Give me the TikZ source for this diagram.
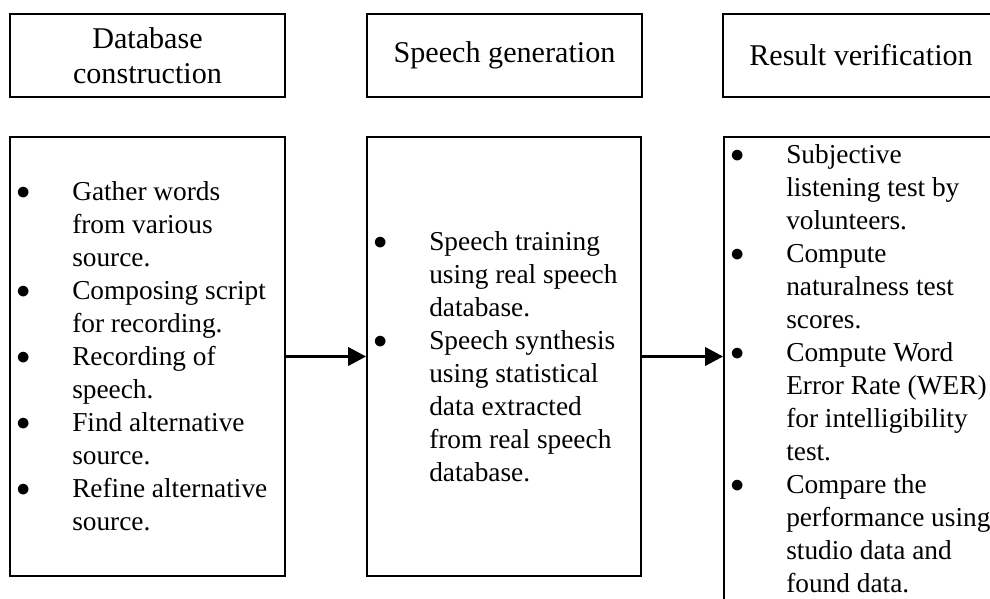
\documentclass[tikz,border=0pt]{standalone}
\usepackage{fontspec}
\setmainfont{Liberation Serif}
\usetikzlibrary{arrows.meta}
\newcommand\itm{\llap{\makebox[73.5pt]{\raisebox{1pt}{$\bullet$}}}}
\begin{document}
\begin{tikzpicture}[x=0.75pt,y=-0.75pt,
  box/.style={draw=black, line width=1.5pt, rectangle, inner sep=0pt},
  titletext/.style={font=\fontsize{22.6}{26}\selectfont, align=center},
  listtext/.style={font=\fontsize{20.5}{24.75}\selectfont, inner sep=0pt, anchor=base west},
  arr/.style={line width=1.5pt, -{Triangle[length=13.5pt,width=14pt]}}]
\useasboundingbox (0,0) rectangle (990,599);
\clip (0,0) rectangle (990,599);
% top title boxes
\node[box, minimum width=206.25pt, minimum height=62.25pt] (t1) at (147.5,55.5) {};
\node[titletext] (t1txt) at (t1.center) {Database\\construction};
\node[box, minimum width=206.25pt, minimum height=62.25pt] (t2) at (504.5,55.5) {};
\node[titletext] (t2txt) at (t2.center) {Speech generation};
\node[box, minimum width=207pt, minimum height=62.25pt] (t3) at (861,55.5) {};
\node[titletext] (t3txt) at (t3.center) {Result verification};
% lower boxes
\node[box, minimum width=206.25pt, minimum height=329.25pt] (b1) at (147.5,356.5) {};
\node[box, minimum width=205.5pt, minimum height=329.25pt] (b2) at (504,356.5) {};
\node[box, minimum width=206.25pt, minimum height=377.25pt] (b3) at (861.5,388.5) {};
% list texts
\node[listtext] (l1) at (72,200.5) {\begin{tabular}[t]{@{}l@{}}
\itm Gather words\\ from various\\ source.\\
\itm Composing script\\ for recording.\\
\itm Recording of\\ speech.\\
\itm Find alternative\\ source.\\
\itm Refine alternative\\ source.
\end{tabular}};
\node[listtext] (l2) at (429,250.5) {\begin{tabular}[t]{@{}l@{}}
\itm Speech training\\ using real speech\\ database.\\
\itm Speech synthesis\\ using statistical\\ data extracted\\ from real speech\\ database.
\end{tabular}};
\node[listtext] (l3) at (786,164) {\begin{tabular}[t]{@{}l@{}}
\itm Subjective\\ listening test by\\ volunteers.\\
\itm Compute\\ naturalness test\\ scores.\\
\itm Compute Word\\ Error Rate (WER)\\ for intelligibility\\ test.\\
\itm Compare the\\ performance using\\ studio data and\\ found data.
\end{tabular}};
% arrows
\draw[arr] (b1.east) -- (b2.west);
\draw[arr] (b2.east) -- (b2.east -| b3.west);
\end{tikzpicture}
\end{document}
